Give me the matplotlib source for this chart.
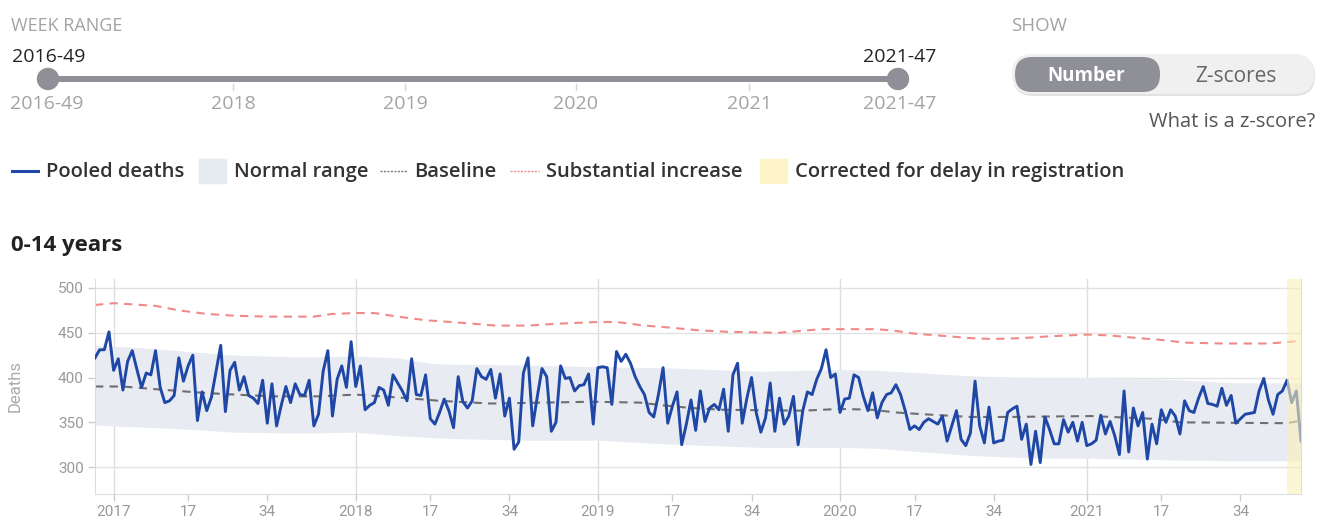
import numpy as np
import matplotlib
matplotlib.use("Agg")
import matplotlib.pyplot as plt
from matplotlib.patches import FancyBboxPatch, Circle, Rectangle

plt.rcParams['font.family'] = ['Open Sans', 'DejaVu Sans']

# weekly pooled deaths, 2016-49 .. 2021-47 (index 0 = 2016-49)
deaths = [
    422, 431, 431, 451, 408, 421, 386, 418, 430, 409,
    389, 405, 403, 430, 389, 372, 374, 380, 422, 396,
    413, 425, 352, 384, 363, 378, 407, 436, 362, 408,
    417, 386, 401, 380, 377, 371, 397, 349, 393, 346,
    369, 390, 372, 393, 381, 380, 397, 346, 359, 407,
    430, 357, 398, 413, 389, 440, 390, 413, 364, 369,
    372, 389, 386, 369, 403, 394, 385, 374, 421, 381,
    380, 403, 354, 348, 361, 376, 363, 344, 401, 373,
    366, 374, 410, 401, 398, 409, 377, 404, 357, 377,
    320, 328, 405, 422, 346, 379, 410, 401, 340, 350,
    413, 399, 400, 385, 391, 392, 404, 348, 411, 412,
    411, 370, 429, 418, 426, 416, 401, 390, 381, 361,
    356, 381, 411, 349, 368, 384, 325, 348, 375, 341,
    385, 351, 366, 370, 364, 387, 340, 403, 416, 349,
    377, 400, 361, 339, 355, 394, 340, 377, 348, 357,
    379, 325, 363, 384, 381, 398, 410, 431, 400, 404,
    361, 376, 377, 403, 400, 379, 363, 383, 355, 372,
    381, 383, 392, 381, 363, 342, 346, 342, 350, 354,
    351, 348, 357, 329, 346, 363, 331, 324, 338, 396,
    346, 327, 367, 327, 329, 330, 361, 365, 368, 331,
    348, 303, 340, 305, 356, 342, 326, 326, 353, 339,
    350, 329, 350, 324, 326, 330, 358, 337, 351, 335,
    314, 385, 317, 366, 346, 361, 309, 348, 326, 364,
    350, 364, 357, 337, 374, 363, 361, 377, 390, 371,
    370, 368, 388, 369, 380, 349, 354, 359, 360, 361,
    385, 399, 375, 359, 381, 385, 397, 372, 385, 329,
]

base_weeks = [0, 6, 13, 23, 30, 38, 48, 56, 67, 74, 85, 107, 117, 122, 128,
              135, 152, 160, 167, 172, 178, 188, 196, 214, 227, 233, 256, 259]
baseline = [390, 390, 387, 383, 381, 379, 379, 381, 377, 374, 371, 373, 372, 369, 366,
            364, 363, 365, 364, 361, 359, 356, 356, 357, 354, 350, 349, 352]

incr_weeks = [0, 4, 10, 13, 18, 24, 30, 37, 47, 51, 56, 60, 65, 71, 79, 86, 93, 99,
              108, 112, 118, 123, 129, 136, 147, 156, 160, 168, 172, 176, 181, 188,
              193, 199, 205, 213, 218, 224, 229, 234, 242, 252, 257, 259]
increase = [481, 483, 481, 480, 475, 471, 469, 468, 468, 471, 472, 472, 468, 464, 461,
            458, 458, 460, 462, 462, 458, 456, 453, 451, 450, 454, 454, 454, 452, 449,
            447, 444, 443, 444, 446, 448, 447, 444, 442, 439, 438, 438, 440, 441]

range_weeks = [0, 8, 18, 30, 44, 56, 65, 72, 76, 93, 108, 122, 143, 160, 168,
               188, 202, 213, 231, 245, 259]
range_hi = [436, 434, 430, 425, 423, 424, 422, 416, 415, 414, 412, 411, 407, 409, 408,
            402, 400, 400, 398, 394, 394]
range_lo = [347, 345, 343, 339, 338, 339, 335, 333, 332, 330, 330, 326, 322, 322, 321,
            313, 310, 310, 308, 307, 307]

tick_weeks = [4, 20, 37, 56, 72, 89, 108, 124, 141, 160, 176, 193, 213, 229, 246]
tick_labels = ['2017', '17', '34', '2018', '17', '34', '2019', '17', '34',
               '2020', '17', '34', '2021', '17', '34']
year_weeks = [4, 56, 108, 160, 213]
corrected_from = 256

slider_labels = ['2016-49', '2018', '2019', '2020', '2021', '2021-47']
slider_pos = [47, 233, 405, 576, 749, 900]

BLUE = '#1f47a5'
GREY_TXT = '#a3a3a3'
SLIDER = '#8f8f98'
TXT = '#333333'

fig = plt.figure(figsize=(13.17, 5.17), dpi=100)

# ---- controls drawn in pixel coords
ui = fig.add_axes([0, 0, 1, 1])
ui.set_xlim(0, 1317)
ui.set_ylim(517, 0)
ui.axis('off')

ui.text(11, 26, 'WEEK RANGE', fontsize=13, color=GREY_TXT, va='center', ha='left')
ui.plot([48, 898], [79, 79], color=SLIDER, lw=4.3, solid_capstyle='butt')
for cx in [48, 898]:
    ui.add_patch(Circle((cx, 79), 10.5, color=SLIDER, zorder=3))
ui.text(49, 57, '2016-49', fontsize=14, color='#222222', ha='center', va='center')
ui.text(900, 57, '2021-47', fontsize=14, color='#222222', ha='center', va='center')
for sx in slider_pos[1:-1]:
    ui.plot([sx, sx], [84, 90], color='#d5d5d5', lw=1)
for sx, lab in zip(slider_pos, slider_labels):
    ui.text(sx, 104, lab, fontsize=14, color=GREY_TXT, ha='center', va='center')

ui.text(1011, 26, 'SHOW', fontsize=13.5, color=GREY_TXT, va='center', ha='left')
ui.add_patch(FancyBboxPatch((1013, 56), 302, 40, boxstyle='round,pad=0,rounding_size=20',
                            fc='#e2e2e2', ec='none'))
ui.add_patch(FancyBboxPatch((1012, 54), 302, 40, boxstyle='round,pad=0,rounding_size=20',
                            fc='#f0f0f0', ec='none'))
ui.add_patch(FancyBboxPatch((1015, 57), 145, 35, boxstyle='round,pad=0,rounding_size=17',
                            fc=SLIDER, ec='none'))
ui.text(1086, 76, 'Number', fontsize=13.5, color='white', weight='bold', ha='center', va='center')
ui.text(1236, 76, 'Z-scores', fontsize=15, color='#666666', ha='center', va='center')
ui.text(1315, 122, 'What is a z-score?', fontsize=14.5, color='#555555', ha='right', va='center')

# legend
ly = 172
ui.plot([12, 38], [171, 171], color=BLUE, lw=2.2)
ui.text(46, ly, 'Pooled deaths', fontsize=14.5, color=TXT, weight='semibold', va='center')
ui.add_patch(Rectangle((199, 159), 27, 24, color='#e6eaf1'))
ui.text(234, ly, 'Normal range', fontsize=14.5, color=TXT, weight='semibold', va='center')
ui.plot([380, 407], [171, 171], color='#777777', lw=1, ls=(0, (1.5, 1)))
ui.text(414, ly, 'Baseline', fontsize=14.5, color=TXT, weight='semibold', va='center')
ui.plot([510, 539], [171, 171], color='#f08a8a', lw=1, ls=(0, (1.5, 1)))
ui.text(546, ly, 'Substantial increase', fontsize=14.5, color=TXT, weight='semibold', va='center')
ui.add_patch(Rectangle((760, 159), 27, 24, color='#fcf4c8'))
ui.text(795, ly, 'Corrected for delay in registration', fontsize=14.5, color=TXT,
        weight='semibold', va='center')

ui.text(11, 246, '0-14 years', fontsize=16, color='#222222', weight='bold', va='center')

# ---- chart
ax = fig.add_axes([95 / 1317, 23 / 517, 1206 / 1317, 215 / 517])
weeks = np.arange(len(deaths))
ax.fill_between(range_weeks, range_lo, range_hi, color='#e8ecf2', lw=0, zorder=1)
ax.plot(base_weeks, baseline, color='#6e6e6e', lw=1.5, ls=(0, (4, 3)), zorder=2)
ax.plot(incr_weeks, increase, color='#f08a8a', lw=1.5, ls=(0, (4, 3)), zorder=2)
ax.plot(weeks, deaths, color=BLUE, lw=2.1, zorder=3)
ax.axvspan(corrected_from, 260, color='#fbf0b8', alpha=0.6, lw=0, zorder=4)

ax.set_xlim(0, 259)
ax.set_ylim(270, 510)
ax.set_yticks([300, 350, 400, 450, 500])
ax.set_xticks(tick_weeks)
ax.set_xticklabels(tick_labels, fontfamily='Roboto')
ax.set_yticklabels(['300', '350', '400', '450', '500'], fontfamily='Roboto')
ax.grid(axis='y', color='#e2e2e2', lw=1)
for yw in year_weeks:
    ax.axvline(yw, color='#dddddd', lw=1, zorder=0)
ax.tick_params(axis='both', colors='#cccccc', labelcolor='#999999', labelsize=11,
               length=5, width=1, pad=3)
ax.spines['top'].set_visible(False)
for side in ['left', 'bottom', 'right']:
    ax.spines[side].set_color('#dddddd')
ax.set_ylabel('Deaths', color='#aaaaaa', fontsize=12, fontfamily='Roboto')
ax.yaxis.set_label_coords(-0.06, 0.5)
ax.set_axisbelow(True)

fig.savefig('out.png', dpi=100)
